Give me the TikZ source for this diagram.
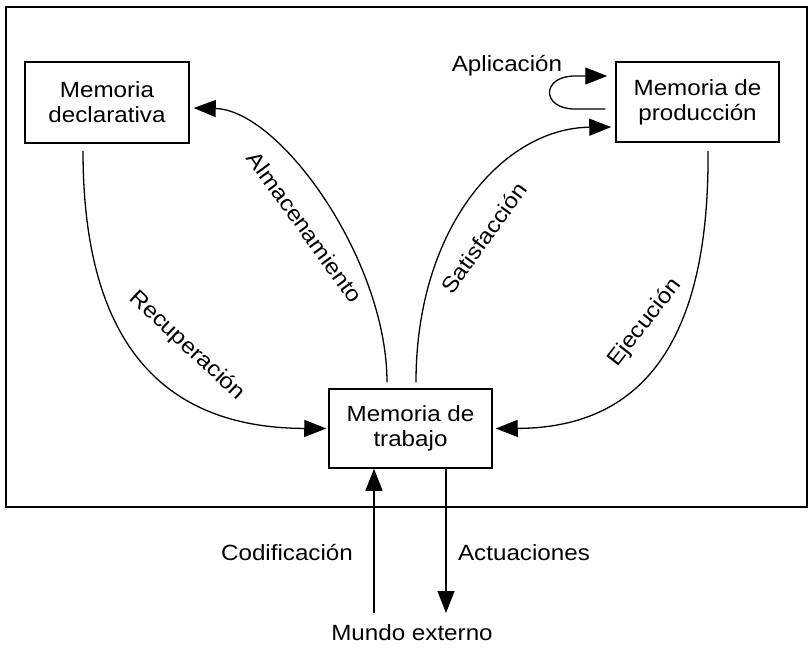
\documentclass[tikz,border=0pt]{standalone}
\usepackage{fontspec}
\setmainfont{Liberation Sans}[FakeStretch=1.1]
\usetikzlibrary{arrows.meta}
\begin{document}
\begin{tikzpicture}[x=0.5pt,y=-0.5pt,
  box/.style={draw,line width=0.75pt,inner sep=0pt,align=center,font=\fontsize{11}{12.5}\selectfont},
  lbl/.style={inner sep=0pt,align=center,font=\fontsize{11}{12.5}\selectfont},
  conn/.style={line width=0.65pt},
  arr/.style={conn,-{Triangle[length=11pt,width=8.5pt]}}]
\useasboundingbox (0,0) rectangle (810,649);
\draw[line width=1pt] (6,7) rectangle (807,507);
\node[box,minimum width=82pt,minimum height=40.5pt] (decl) at (107,102.5) {Memoria\\declarativa};
\node[box,minimum width=81.5pt,minimum height=40pt] (prod) at (697.5,102) {Memoria de\\producción};
\node[box,minimum width=81.5pt,minimum height=39.5pt] (work) at (410.5,428.5) {Memoria de\\trabajo};
% Recuperacion
\draw[arr] ([shift={(-24,7)}]decl.south) .. controls (83,340) and (160,428) .. ([shift={(-2,0)}]work.west);
% Almacenamiento
\draw[arr] ([shift={(-23.5,-6)}]work.north) .. controls (387,260) and (280,110) .. ([shift={(4,5.5)}]decl.east);
% Satisfaccion
\draw[arr] ([shift={(5.5,-6)}]work.north) .. controls (416,225) and (505,128) .. ([shift={(-4,25)}]prod.west);
% Ejecucion
\draw[arr] ([shift={(10.5,8)}]prod.south) .. controls (710,370) and (620,428) .. ([shift={(3,0)}]work.east);
% Aplicacion loop
\draw[arr] ([shift={(-10,7)}]prod.west) -- (575,109) .. controls (541,109) and (541,76) .. (575,76) -- ([shift={(-8,-26)}]prod.west);
% External world
\coordinate (codin) at (374,613);
\coordinate (actout) at (446,613);
\draw[arr] (codin) -- ([shift={(-36.5,0)}]work.south);
\draw[arr] ([shift={(35.5,0)}]work.south) -- (actout);
% labels
\node[lbl,rotate=-43] (lrec) at (187,346) {Recuperación};
\node[lbl,rotate=-54] (lalm) at (305,227) {Almacenamiento};
\node[lbl,rotate=54] (lsat) at (484,238) {Satisfacción};
\node[lbl,rotate=52] (leje) at (645,323) {Ejecución};
\node[lbl] (lapl) at (507,66) {Aplicación};
\node[lbl] (lcod) at (287,553) {Codificación};
\node[lbl] (lact) at (524,553) {Actuaciones};
\node[lbl] (lmun) at (412,633) {Mundo externo};
\end{tikzpicture}
\end{document}
